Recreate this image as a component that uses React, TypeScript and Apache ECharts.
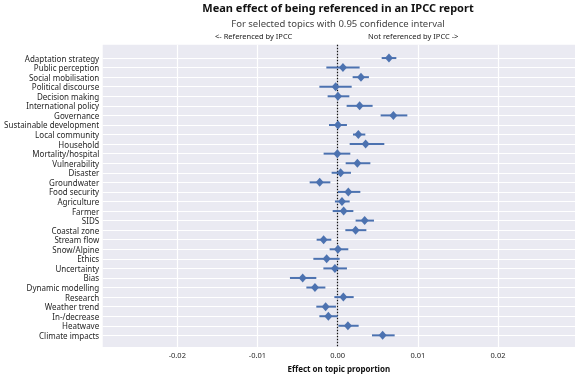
import React, { useEffect, useRef } from "react";
import * as echarts from "echarts";

const categories = [
  "Adaptation strategy", "Public perception", "Social mobilisation", "Political discourse",
  "Decision making", "International policy", "Governance", "Sustainable development",
  "Local community", "Household", "Mortality/hospital", "Vulnerability", "Disaster",
  "Groundwater", "Food security", "Agriculture", "Farmer", "SIDS", "Coastal zone",
  "Stream flow", "Snow/Alpine", "Ethics", "Uncertainty", "Bias", "Dynamic modelling",
  "Research", "Weather trend", "In-/decrease", "Heatwave", "Climate impacts",
];

const means = [
  0.0064, 0.00066, 0.00291, -0.00025, 0.00004, 0.00274, 0.00695, 0.00004, 0.00258, 0.00349,
  -0.00004, 0.00246, 0.00037, -0.00224, 0.00133, 0.00054, 0.00075, 0.00337, 0.00224, -0.00175,
  0.00004, -0.00137, -0.00034, -0.00436, -0.00283, 0.00071, -0.0015, -0.00116, 0.00128, 0.00561,
];

const lower = [
  0.00549, -0.00141, 0.00187, -0.00228, -0.00125, 0.00112, 0.00536, -0.00108, 0.00191, 0.0015,
  -0.00175, 0.001, -0.00075, -0.00349, 0.00004, -0.00034, -0.00062, 0.00224, 0.00096, -0.00262,
  -0.001, -0.00303, -0.00178, -0.00595, -0.0039, -0.00041, -0.00266, -0.00228, 0.00009, 0.00428,
];

const upper = [
  0.00732, 0.00274, 0.0039, 0.00175, 0.00146, 0.00436, 0.00869, 0.00116, 0.00345, 0.00582,
  0.00158, 0.00408, 0.00166, -0.00091, 0.00283, 0.0015, 0.00196, 0.00453, 0.00358, -0.00079,
  0.00133, 0.00025, 0.00116, -0.00266, -0.00153, 0.002, -0.00021, 0, 0.00262, 0.00711,
];

const xTicks = [-0.02, -0.01, 0, 0.01, 0.02];

const FONT = "'Noto Sans', sans-serif";
const BLUE = "#4c72b0";

export default function App() {
  const ref = useRef<HTMLDivElement>(null);
  useEffect(() => {
    if (!ref.current) return;
    const chart = echarts.init(ref.current, null, { renderer: "svg" });
    const idx = categories.map((_, i) => i);
    chart.setOption({
      animation: false,
      textStyle: { fontFamily: FONT },
      grid: {
        left: 102.7,
        right: 0,
        top: 44.7,
        bottom: 23,
        show: true,
        backgroundColor: "#eaeaf2",
        borderWidth: 0,
      },
      xAxis: {
        type: "value",
        min: -0.0293,
        max: 0.0296,
        axisLine: { show: false },
        axisTick: { show: false },
        splitLine: { show: false },
        axisLabel: {
          customValues: xTicks,
          formatter: (v: number) => v.toFixed(2),
          fontSize: 7.5,
          color: "#262626",
          margin: 4,
          fontFamily: FONT,
        },
        name: "Effect on topic proportion",
        nameLocation: "middle",
        nameGap: 15,
        nameTextStyle: { fontSize: 8, fontWeight: "bold", color: "#111", fontFamily: FONT },
      },
      yAxis: {
        type: "value",
        inverse: true,
        min: -1.395,
        max: 30.23,
        axisLine: { show: false },
        axisTick: { show: false },
        splitLine: { show: false },
        axisLabel: {
          customValues: idx,
          formatter: (v: number) => categories[Math.round(v)] ?? "",
          fontSize: 8,
          color: "#262626",
          margin: 3.5,
          fontFamily: FONT,
        },
      },
      graphic: [
        {
          type: "text",
          x: 338,
          y: 7,
          style: {
            text: "Mean effect of being referenced in an IPCC report",
            textAlign: "center",
            textVerticalAlign: "middle",
            font: `bold 11px ${FONT}`,
            fill: "#111",
          },
        },
        {
          type: "text",
          x: 338,
          y: 23.3,
          style: {
            text: "For selected topics with 0.95 confidence interval",
            textAlign: "center",
            textVerticalAlign: "middle",
            font: `9.5px ${FONT}`,
            fill: "#444",
          },
        },
        {
          type: "text",
          x: 215,
          y: 36,
          style: {
            text: "<- Referenced by IPCC",
            textAlign: "left",
            textVerticalAlign: "middle",
            font: `7.5px ${FONT}`,
            fill: "#222",
          },
        },
        {
          type: "text",
          x: 368,
          y: 36,
          style: {
            text: "Not referenced by IPCC ->",
            textAlign: "left",
            textVerticalAlign: "middle",
            font: `7.5px ${FONT}`,
            fill: "#222",
          },
        },
      ],
      series: [
        {
          type: "scatter",
          name: "grid",
          data: [],
          z: 1,
          markLine: {
            z: 1,
            silent: true,
            symbol: "none",
            label: { show: false },
            data: [
              ...xTicks
                .filter((t) => t !== 0)
                .map((t) => ({ xAxis: t, lineStyle: { color: "#ffffff", width: 1.2, type: "solid" } })),
              ...idx.map((i) => ({ yAxis: i, lineStyle: { color: "#ffffff", width: 1, type: "solid" } })),
              { xAxis: 0, lineStyle: { color: "#111", width: 1.2, type: [1.5, 1.5] } },
            ],
          },
        },
        {
          type: "custom",
          name: "ci",
          z: 3,
          data: idx.map((i) => [lower[i], upper[i], i]),
          encode: { x: [0, 1], y: 2 },
          renderItem: (_params: any, api: any) => {
            const p1 = api.coord([api.value(0), api.value(2)]);
            const p2 = api.coord([api.value(1), api.value(2)]);
            return {
              type: "line",
              shape: { x1: p1[0], y1: p1[1], x2: p2[0], y2: p2[1] },
              style: { stroke: BLUE, lineWidth: 2 },
            };
          },
        },
        {
          type: "scatter",
          name: "mean",
          z: 4,
          symbol: "diamond",
          symbolSize: [8, 9],
          itemStyle: { color: BLUE, opacity: 1 },
          data: idx.map((i) => [means[i], i]),
        },
      ],
    });
    return () => chart.dispose();
  }, []);
  return (
    <div
      ref={ref}
      style={{ position: "fixed", left: 0, top: 0, width: 575, height: 377 }}
    />
  );
}
